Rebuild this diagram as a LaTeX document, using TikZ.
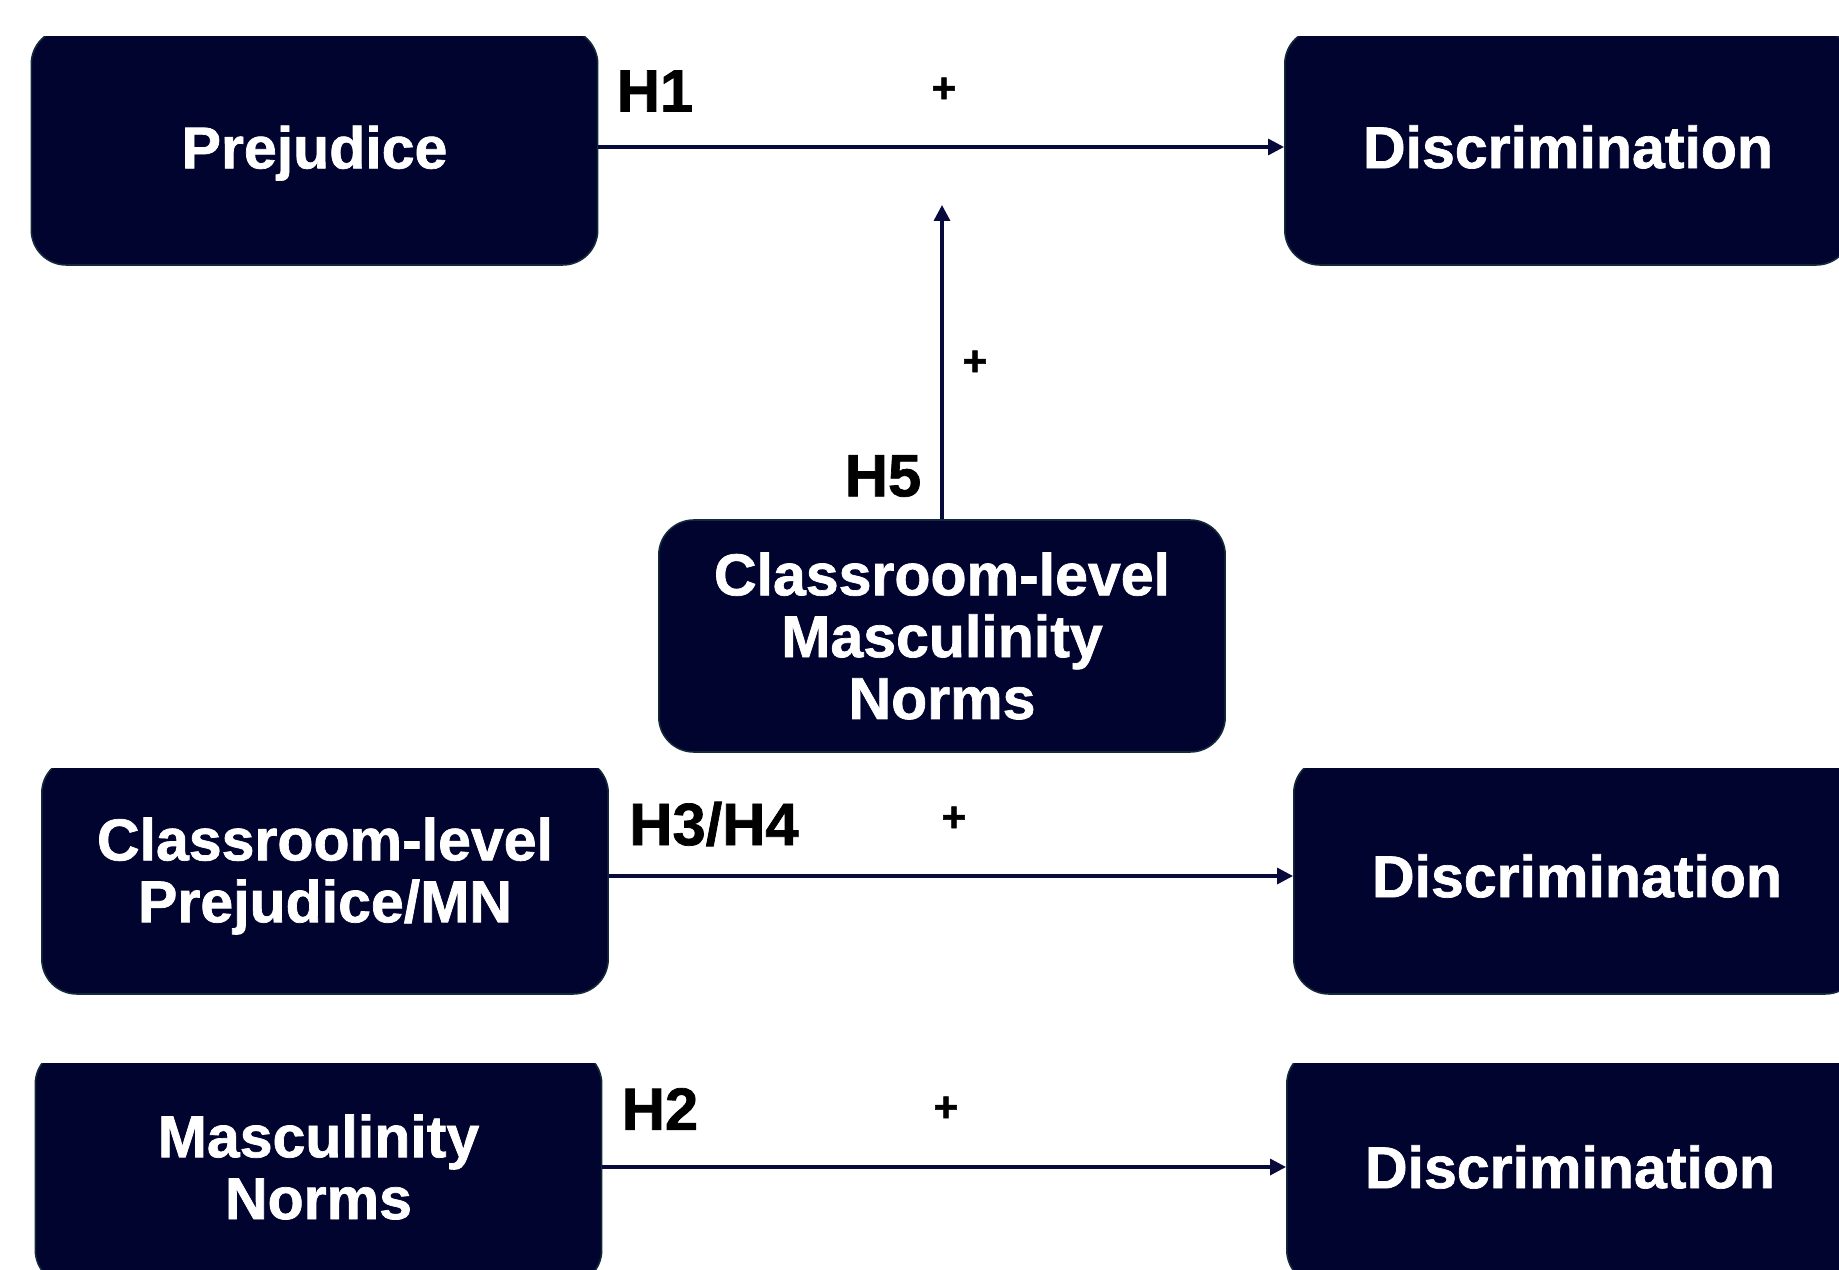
\documentclass[tikz,border=0pt]{standalone}
\usepackage{fontspec}
\setmainfont{Liberation Sans}[BoldFeatures={FakeBold=1.2}]
\usetikzlibrary{arrows.meta}
\definecolor{boxnavy}{RGB}{1,4,46}
\definecolor{boxedge}{RGB}{18,42,58}
\definecolor{arrnavy}{RGB}{8,10,60}
\tikzset{
  varbox/.style={fill=boxnavy, draw=boxedge, line width=0.9pt, rounded corners=0.7cm,
    text=white, align=center, inner sep=0pt, minimum width=11.33cm, minimum height=4.72cm,
    font=\fontsize{33.6pt}{35.2pt}\selectfont\bfseries},
  hyp/.style={text=black, inner sep=0pt, font=\fontsize{34pt}{36pt}\selectfont\bfseries},
  sign/.style={text=black, inner sep=0pt, font=\fontsize{24pt}{26pt}\selectfont\bfseries},
  link/.style={draw=arrnavy, line width=1.9pt, -{Triangle[length=0.32cm,width=0.32cm]}}
}
\begin{document}
\begin{tikzpicture}[x=0.02cm,y=-0.02cm]
\useasboundingbox (0,0) rectangle (1839,1270);
\clip (0,0) rectangle (1839,1270);
\fill[white] (0,0) rectangle (1839,1270);
% top row
\begin{scope}
\clip (0,37) rectangle (1839,700);
\node[varbox, text depth=0pt] (pre) at (314.5,147) {Prejudice};
\node[varbox] (dis1) at (1568,147) {Discrimination};
\end{scope}
% centre moderator
\node[varbox, minimum height=4.64cm] (cmn) at (942,636) {Classroom-level\\Masculinity\\Norms};
% middle row
\begin{scope}
\clip (0,768) rectangle (1839,1030);
\node[varbox] (cpm) at (325,876) {Classroom-level\\Prejudice/MN};
\node[varbox] (dis2) at (1577,876) {Discrimination};
\end{scope}
% bottom row
\begin{scope}
\clip (0,1063) rectangle (1839,1270);
\node[varbox] (mn) at (318.5,1167) {Masculinity\\Norms};
\node[varbox] (dis3) at (1570,1167) {Discrimination};
\end{scope}
% connectors
\coordinate (tgt) at (942,205);
\draw[link] (pre.east) -- (dis1.west);
\draw[link] (cpm.east) -- (dis2.west);
\draw[link] (mn.east) -- (dis3.west);
\draw[link] (cmn.north) -- (tgt);
% labels
\node[hyp] (h1) at (655,91) {H1};
\node[sign] (p1) at (944,90) {+};
\node[hyp] (h5) at (883,476) {H5};
\node[sign] (p5) at (975,363) {+};
\node[hyp] (h34) at (714,824) {H3/H4};
\node[sign] (p34) at (954,819) {+};
\node[hyp] (h2) at (660,1109) {H2};
\node[sign] (p2) at (946,1109) {+};
\end{tikzpicture}
\end{document}
